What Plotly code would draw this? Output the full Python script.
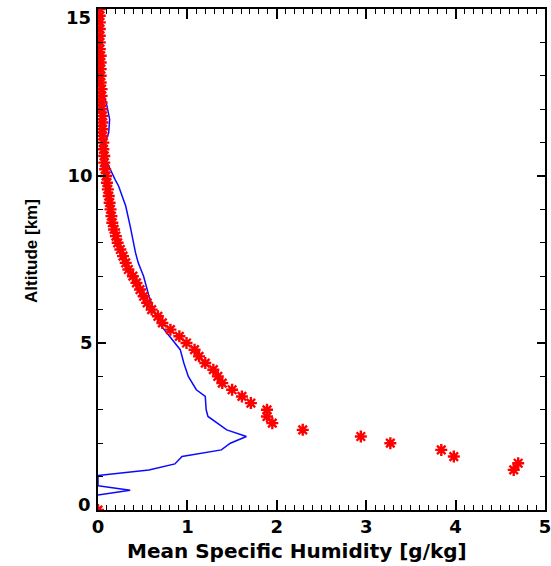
import plotly.graph_objects as go

# Blue line: mean specific humidity profile
blue_x = [0.0, 0.36, 0.0, 0.0, 0.57, 0.86, 0.94, 1.38, 1.48, 1.66, 1.44, 1.23, 1.21, 1.20,
          1.10, 1.01, 0.96, 0.92, 0.80, 0.68, 0.57, 0.51, 0.45, 0.42, 0.36, 0.31, 0.23,
          0.19, 0.12, 0.10, 0.08, 0.12, 0.13, 0.10, 0.05, 0.0]
blue_y = [0.45, 0.59, 0.73, 1.03, 1.2, 1.38, 1.6, 1.8, 2.0, 2.2, 2.4, 2.8, 3.0, 3.4,
          3.6, 4.0, 4.4, 4.8, 5.2, 5.6, 6.4, 7.0, 7.4, 7.7, 8.5, 9.1, 9.7,
          9.9, 10.3, 10.4, 11.0, 11.3, 11.7, 12.1, 12.6, 12.9]

# Red stars: second profile
red_y = [0.0, 1.2, 1.4, 1.6, 1.8, 2.0, 2.2, 2.4, 2.6, 2.8, 3.0, 3.2, 3.4, 3.6, 3.8, 4.0,
         4.2, 4.4, 4.6, 4.8, 5.0, 5.2, 5.4, 5.6, 5.8, 6.0, 6.2, 6.4, 6.6, 6.8, 7.0,
         7.2, 7.4, 7.6, 7.8, 8.0, 8.2, 8.4, 8.6, 8.8, 9.0, 9.2, 9.4, 9.6, 9.8, 10.0,
         10.2, 10.4, 10.6, 10.8, 11.0, 11.2, 11.4, 11.6, 11.8, 12.0, 12.2, 12.4, 12.6,
         12.8, 13.0, 13.2, 13.4, 13.6, 13.8, 14.0, 14.2, 14.4, 14.6, 14.8, 15.0]
red_x = [0.0, 4.65, 4.70, 3.98, 3.84, 3.27, 2.94, 2.29, 1.95, 1.89, 1.89, 1.71, 1.61, 1.50,
         1.39, 1.34, 1.29, 1.20, 1.13, 1.08, 0.99, 0.91, 0.81, 0.72, 0.67, 0.60, 0.55,
         0.51, 0.47, 0.43, 0.39, 0.34, 0.31, 0.28, 0.25, 0.22, 0.20, 0.18, 0.16, 0.15,
         0.14, 0.13, 0.12, 0.11, 0.10, 0.09, 0.08, 0.07, 0.07, 0.06, 0.06, 0.05, 0.05,
         0.05, 0.05, 0.04, 0.04, 0.04, 0.04, 0.03, 0.03, 0.03, 0.03, 0.03, 0.02, 0.02,
         0.02, 0.02, 0.02, 0.02, 0.02]

x_ticks = [0, 1, 2, 3, 4, 5]
y_ticks_mid = [5, 10]
y_tick_ends = [0, 15]

x_title = "Mean Specific Humidity [g/kg]"
y_title = "Altitude [km]"

fig = go.Figure()
fig.add_trace(go.Scatter(x=blue_x, y=blue_y, mode="lines",
                         line=dict(color="#0a0aff", width=1.5), showlegend=False))
fig.add_trace(go.Scatter(x=red_x, y=red_y, mode="markers",
                         marker=dict(symbol="asterisk-open", size=10, color="red",
                                     line=dict(color="red", width=2.4)),
                         showlegend=False))

font_fam = "DejaVu Sans"
tick_font = dict(family=font_fam, size=18, color="black", weight="bold")
axis_common = dict(showline=True, linecolor="black", linewidth=1.5, mirror="allticks",
                   ticks="inside", tickcolor="black", tickwidth=1.5, showgrid=False,
                   zeroline=False, automargin=False, layer="above traces",
                   ticklabeloverflow="allow", tickfont=tick_font)
x_minor = [k / 10 for k in range(0, 51)]
fig.update_xaxes(range=[0, 5], tickvals=x_ticks, ticklen=10,
                 minor=dict(tickmode="array", tickvals=x_minor, ticklen=5, ticks="inside",
                            tickcolor="black", tickwidth=1.2, showgrid=False),
                 **axis_common)
fig.update_yaxes(range=[0, 15], tickvals=y_tick_ends + y_ticks_mid,
                 ticktext=["", ""] + [str(v) for v in y_ticks_mid], ticklen=8,
                 minor=dict(dtick=1, tick0=0, ticklen=5, ticks="inside", tickcolor="black",
                            tickwidth=1.2, showgrid=False),
                 **axis_common)

# End labels of the y axis sit slightly inside the axis range, as in the original
for v, shift in zip(y_tick_ends, [6, -8]):
    fig.add_annotation(x=0, xref="paper", y=v, yref="y", text=str(v), showarrow=False,
                       xanchor="right", yanchor="middle", xshift=-5, yshift=shift,
                       font=tick_font)

W, H, L, R, T, B = 551, 566, 98, 6, 9, 56
pw, ph = W - L - R, H - T - B
# titles placed by pixel centre, converted to paper fractions
fig.add_annotation(x=(297 - L) / pw, xref="paper", y=(H - B - 551) / ph, yref="paper",
                   text=x_title, showarrow=False, xanchor="center", yanchor="middle",
                   font=dict(family=font_fam, size=20, color="black", weight="bold"))
fig.add_annotation(x=(31 - L) / pw, xref="paper", y=(H - B - 251) / ph, yref="paper",
                   text=y_title, showarrow=False, textangle=-90,
                   xanchor="center", yanchor="middle",
                   font=dict(family="Liberation Sans", size=17, color="black", weight="bold"))

fig.update_layout(template="none", width=W, height=H,
                  margin=dict(l=L, r=R, t=T, b=B),
                  plot_bgcolor="white", paper_bgcolor="white")
fig.write_html("out.html", config={"displayModeBar": False},
               post_script="document.body.style.margin='0px';")
